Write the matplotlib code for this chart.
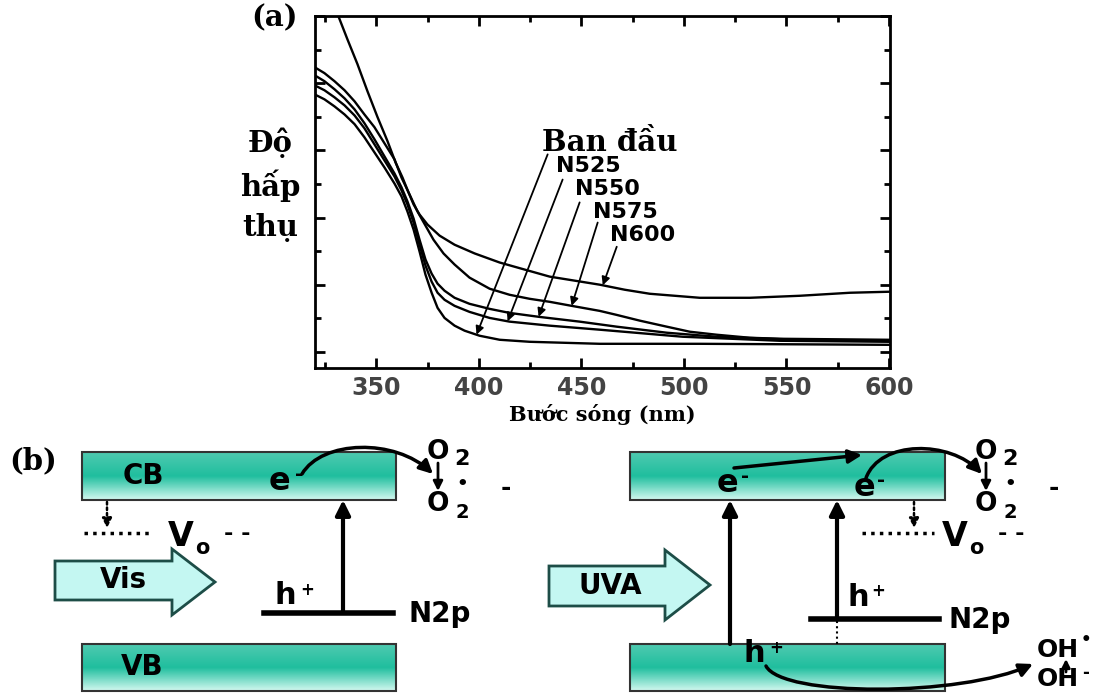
import numpy as np
import matplotlib
matplotlib.use('Agg')
import matplotlib.pyplot as plt
from matplotlib.patches import Rectangle, Polygon, FancyArrowPatch
from matplotlib.path import Path
from matplotlib.colors import LinearSegmentedColormap

plt.rcParams['font.family'] = ['DejaVu Sans']

# (a) UV-Vis absorbance (arbitrary units)
wl_n600 = [328.5, 331.0, 335.8, 340.7, 345.6, 350.5, 355.4, 359.3, 362.7, 365.6, 368.1, 371.0,
           374.9, 380.8, 388.1, 397.9, 410.1, 422.3, 434.5, 446.7, 458.9, 471.1, 483.3, 507.7,
           532.1, 556.5, 581.0, 600.0]
ab_n600 = [1.036, 1.006, 0.931, 0.857, 0.776, 0.699, 0.627, 0.564, 0.519, 0.475, 0.439, 0.409,
           0.379, 0.346, 0.319, 0.293, 0.266, 0.245, 0.224, 0.212, 0.200, 0.185, 0.173, 0.161,
           0.161, 0.167, 0.176, 0.179]

wl_n575 = [319.7, 324.6, 329.5, 334.4, 339.3, 344.1, 349.0, 353.9, 358.8, 362.2, 366.1, 370.0,
           373.9, 377.8, 382.7, 388.1, 395.4, 405.2, 414.9, 424.7, 434.5, 445.2, 458.9, 467.2,
           478.4, 491.6, 502.8, 516.0, 532.1, 546.8, 600.0]
ab_n575 = [0.848, 0.830, 0.806, 0.779, 0.746, 0.707, 0.669, 0.621, 0.573, 0.519, 0.469, 0.418,
           0.376, 0.334, 0.293, 0.260, 0.221, 0.188, 0.170, 0.158, 0.149, 0.137, 0.122, 0.110,
           0.093, 0.075, 0.060, 0.051, 0.042, 0.039, 0.036]

wl_n550 = [319.7, 324.6, 329.5, 334.4, 339.3, 344.1, 349.0, 353.9, 358.8, 362.2, 365.1, 368.1,
           371.0, 373.9, 376.9, 379.8, 383.2, 388.1, 395.4, 405.2, 414.9, 429.6, 449.1, 467.2,
           491.6, 516.0, 556.5, 600.0]
ab_n550 = [0.824, 0.806, 0.782, 0.755, 0.722, 0.681, 0.633, 0.582, 0.531, 0.490, 0.448, 0.397,
           0.334, 0.275, 0.233, 0.203, 0.182, 0.161, 0.143, 0.128, 0.116, 0.104, 0.090, 0.075,
           0.057, 0.045, 0.036, 0.033]

wl_n525 = [319.7, 324.6, 329.5, 334.4, 339.3, 344.1, 349.0, 353.9, 358.8, 362.2, 365.1, 368.1,
           371.0, 373.9, 376.9, 379.8, 383.2, 388.1, 395.4, 405.2, 414.9, 434.5, 458.9, 499.4,
           546.8, 600.0]
ab_n525 = [0.794, 0.779, 0.758, 0.734, 0.704, 0.666, 0.618, 0.570, 0.522, 0.481, 0.439, 0.385,
           0.319, 0.257, 0.209, 0.176, 0.155, 0.137, 0.119, 0.101, 0.090, 0.078, 0.066, 0.045,
           0.033, 0.030]

wl_bd = [319.7, 324.6, 329.5, 334.4, 339.3, 344.1, 349.0, 353.9, 358.8, 362.2, 365.1, 368.1,
         371.0, 373.9, 376.9, 379.8, 383.2, 388.1, 393.0, 400.3, 410.1, 424.7, 458.9, 507.7, 600.0]
ab_bd = [0.767, 0.752, 0.731, 0.707, 0.678, 0.639, 0.594, 0.549, 0.501, 0.463, 0.418, 0.364,
         0.299, 0.230, 0.176, 0.131, 0.101, 0.078, 0.063, 0.048, 0.036, 0.030, 0.024, 0.024, 0.021]

series_names = ['Ban đầu', 'N525', 'N550', 'N575', 'N600']
arrow_tip_nm = [398.8, 414.0, 429.1, 445.2, 460.4]
xticks = [350, 400, 450, 500, 550, 600]

fig = plt.figure(figsize=(11.15, 6.93), dpi=100)

# overlay in pixel coordinates for the scheme (b) and loose labels
ov = fig.add_axes([0, 0, 1, 1])
ov.axis('off')

ax = fig.add_axes([0.2825, 0.469, 0.5157, 0.5079])
curves = [(wl_bd, ab_bd), (wl_n525, ab_n525), (wl_n550, ab_n550),
          (wl_n575, ab_n575), (wl_n600, ab_n600)]
for wl, ab in curves:
    ax.plot(wl, ab, color='k', lw=1.7, solid_joinstyle='round')

ax.set_xlim(320, 600.5)
ax.set_ylim(-0.048, 1.0)
ax.set_xticks(xticks)
ax.set_xticks(np.arange(325, 600, 50), minor=True)
ax.set_yticks(np.arange(0, 1.01, 0.2))
ax.set_yticks(np.arange(0.1, 1.0, 0.2), minor=True)
ax.set_yticklabels([])
ax.tick_params(which='both', direction='in', top=True, right=True, width=2)
ax.tick_params(which='major', length=7, labelsize=17, labelcolor='#444', pad=6)
ax.tick_params(which='minor', length=4)
for lab in ax.get_xticklabels():
    lab.set_fontweight('bold')
for sp in ax.spines.values():
    sp.set_linewidth(2)
ax.set_xlabel('Bước sóng (nm)', family='DejaVu Serif', fontweight='bold',
              fontsize=15, labelpad=3)

# label arrows
tails = [(433.5, 0.588), (440.8, 0.513), (449.1, 0.445), (457.9, 0.385), (467.2, 0.313)]
for (wl, ab), tip, tail in zip(curves, arrow_tip_nm, tails):
    ty = np.interp(tip, wl, ab)
    ax.annotate('', xy=(tip, ty), xytext=tail,
                arrowprops=dict(arrowstyle='-|>', color='k', lw=1.3,
                                mutation_scale=12, shrinkA=0, shrinkB=0))
ax.text(463.8, 0.624, series_names[0], ha='center', va='center', family='DejaVu Serif',
        fontweight='bold', fontsize=21)
lab_pos = [(437.4, 0.552), (446.7, 0.484), (455.5, 0.415), (463.8, 0.349)]
for name, (lx, ly) in zip(series_names[1:], lab_pos):
    ax.text(lx, ly, name, ha='left', va='center', fontweight='bold', fontsize=16)

# ---- scheme (b), pixel coordinates ----
band_cmap = LinearSegmentedColormap.from_list('band', ['#4fcab0', '#1fbe9e', '#d2f8ef'])
grad = np.linspace(0, 1, 64)[:, None]


def band(x0, x1, y0, y1):
    ov.imshow(grad, cmap=band_cmap, extent=(x0, x1, y1, y0), aspect='auto', zorder=1)
    ov.add_patch(Rectangle((x0, y0), x1 - x0, y1 - y0, fill=False, ec='#333', lw=1.5, zorder=2))


def block_arrow(x0, xh, x1, ys0, ys1, yh0, yh1):
    yc = (yh0 + yh1) / 2
    pts = [(x0, ys0), (xh, ys0), (xh, yh0), (x1, yc), (xh, yh1), (xh, ys1), (x0, ys1)]
    ov.add_patch(Polygon(pts, closed=True, fc='#c4f7f2', ec='#1d4d47', lw=2, zorder=2))


def up_arrow(x, y0, y1, dotted=False, lw=3, ms=22):
    ov.annotate('', xy=(x, y1), xytext=(x, y0),
                arrowprops=dict(arrowstyle='-|>', color='k', lw=1.8 if dotted else lw,
                                ls=(0, (1, 1.2)) if dotted else '-',
                                mutation_scale=14 if dotted else ms, shrinkA=0, shrinkB=0),
                zorder=4)


def curve_arrow(pts, lw=2.5):
    codes = [Path.MOVETO] + [Path.CURVE4] * (len(pts) - 1)
    ov.add_patch(FancyArrowPatch(path=Path(pts, codes), arrowstyle='-|>', color='k',
                                 lw=lw, mutation_scale=20, zorder=4))


def txt(x, y, s, size=20, **kw):
    ov.text(x, y, s, ha='center', va='center', fontweight='bold', fontsize=size, zorder=5, **kw)


def o2_pair(x):
    txt(x, 452, 'O', 19)
    txt(x + 24, 459, '2', 16)
    up_arrow(x, 463, 491, lw=2, ms=14)
    txt(x, 504, 'O', 19)
    txt(x + 24, 513, '2', 14)
    txt(x + 24, 484, '•', 13)
    txt(x + 68, 488, '-', 18)


def vo(xl, xr, xa, xv):
    ov.plot([xl, xr], [533, 533], color='k', lw=2.5, ls=(0, (1, 1.5)), zorder=3)
    up_arrow(xa, 502, 528, dotted=True)
    txt(xv, 536, 'V', 24)
    txt(xv + 21, 548, 'o', 15)
    txt(xv + 56, 534, '- -', 16)


# left scheme (visible light)
band(82, 396, 452, 500)
band(82, 396, 644, 691)
txt(143, 476, 'CB')
txt(142, 667, 'VB')
txt(279, 481, 'e', 23)
txt(299, 474, '-', 14)
curve_arrow([(302, 474), (322, 440), (395, 438), (433, 474)])
o2_pair(438)
vo(84, 152, 107, 181)
block_arrow(55, 172, 215, 561, 600, 549, 615)
txt(123, 580, 'Vis')
ov.plot([264, 393], [613, 613], color='k', lw=4, zorder=3)
up_arrow(343, 613, 500)
txt(285, 596, 'h', 22)
txt(307, 590, '+', 12)
txt(440, 614, 'N2p')

# right scheme (UVA light)
band(630, 945, 452, 500)
band(630, 945, 644, 691)
txt(727, 483, 'e', 23)
txt(745, 476, '-', 14)
txt(864, 487, 'e', 23)
txt(881, 480, '-', 14)
ov.annotate('', xy=(862, 455), xytext=(734, 468),
            arrowprops=dict(arrowstyle='-|>', color='k', lw=2.5, mutation_scale=20,
                            shrinkA=0, shrinkB=0), zorder=4)
curve_arrow([(866, 478), (880, 440), (950, 440), (982, 474)])
o2_pair(986)
vo(862, 934, 914, 955)
block_arrow(549, 665, 710, 566, 606, 550, 620)
txt(610, 586, 'UVA')
up_arrow(730, 644, 500)
ov.plot([811, 939], [619, 619], color='k', lw=4, zorder=3)
up_arrow(837, 619, 500)
ov.plot([837, 837], [621, 644], color='k', lw=1.5, ls=(0, (1, 1.5)), zorder=3)
txt(858, 597, 'h', 22)
txt(878, 591, '+', 12)
txt(980, 620, 'N2p')
txt(754, 654, 'h', 22)
txt(776, 648, '+', 12)
curve_arrow([(766, 666), (782, 697), (960, 697), (1033, 664)])
txt(1058, 650, 'OH', 18)
txt(1086, 640, '•', 12)
txt(1058, 679, 'OH', 18)
txt(1086, 673, '-', 12)
up_arrow(1066, 672, 659, lw=2, ms=12)

# panel labels
txt(274, 18, '(a)', 21, family='DejaVu Serif')
txt(33, 461, '(b)', 21, family='DejaVu Serif')
for s, y in [('Độ', 143), ('hấp', 186), ('thụ', 227)]:
    txt(270, y, s, 21, family='DejaVu Serif')

ov.set_xlim(0, 1115)
ov.set_ylim(693, 0)

fig.savefig('out.png', dpi=100)
